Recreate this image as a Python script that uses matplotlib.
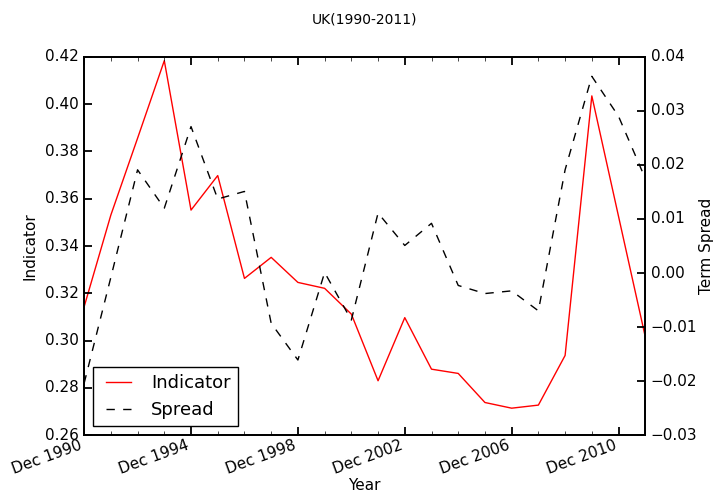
from matplotlib import pyplot as plt
from matplotlib.ticker import MultipleLocator

plt.style.use('classic')
plt.rcParams['figure.facecolor'] = 'white'
plt.rcParams['savefig.facecolor'] = 'white'

# yearly observations, Dec 1990 .. Dec 2011
years = list(range(1990, 2012))
indicator = [0.3143, 0.3531, 0.3856, 0.4184, 0.3552, 0.3698, 0.3263, 0.3352,
             0.3246, 0.3221, 0.3112, 0.2830, 0.3097, 0.2879, 0.2861, 0.2738,
             0.2714, 0.2727, 0.2937, 0.4035, 0.3525, 0.3016]
spread = [-0.0204, -0.0008, 0.0191, 0.0120, 0.0271, 0.0137, 0.0151, -0.0093,
          -0.0161, 0.0001, -0.0087, 0.0111, 0.0051, 0.0092, -0.0023, -0.0038,
          -0.0033, -0.0070, 0.0191, 0.0364, 0.0290, 0.0175]
tick_years = [1990, 1994, 1998, 2002, 2006, 2010]
tick_labels = ['Dec %d' % y for y in tick_years]

fig = plt.figure(figsize=(7.13, 4.99), dpi=100)
ax1 = fig.add_axes([0.118, 0.128, 0.787, 0.758])
ax2 = ax1.twinx()

l1, = ax1.plot(years, indicator, 'r-', lw=1.0, label='Indicator')
l2, = ax2.plot(years, spread, 'k--', lw=1.0, label='Spread')

ax1.set_xlim(1990, 2011)
ax1.set_ylim(0.26, 0.42)
ax2.set_ylim(-0.03, 0.04)
ax1.set_xticks(tick_years)
ax1.set_xticklabels(tick_labels, rotation=20, ha='right')
ax1.xaxis.set_minor_locator(MultipleLocator(1))
ax1.yaxis.set_major_locator(MultipleLocator(0.02))
ax2.yaxis.set_major_locator(MultipleLocator(0.01))
ax1.yaxis.set_minor_locator(MultipleLocator(1))
ax2.yaxis.set_minor_locator(MultipleLocator(1))

for ax in (ax1, ax2):
    ax.tick_params(labelsize=11)
    for s in ax.spines.values():
        s.set_linewidth(1.3)
ax1.tick_params(which='major', length=6, width=1.3)
ax1.tick_params(which='minor', length=3)
ax1.tick_params(axis='x', which='major', pad=2)
ax2.tick_params(which='major', length=6, width=1.3)

ax1.set_xlabel('Year', fontsize=11, labelpad=1)
ax1.set_ylabel('Indicator', fontsize=11)
ax2.set_ylabel('Term Spread', fontsize=11, labelpad=1)
ax1.set_title('UK(1990-2011)', fontsize=10, y=1.07)

ax1.legend([l1, l2], ['Indicator', 'Spread'], loc='lower left',
           fontsize=13, handlelength=2.0, borderaxespad=0.5)

fig.savefig('out.png', dpi=100)
